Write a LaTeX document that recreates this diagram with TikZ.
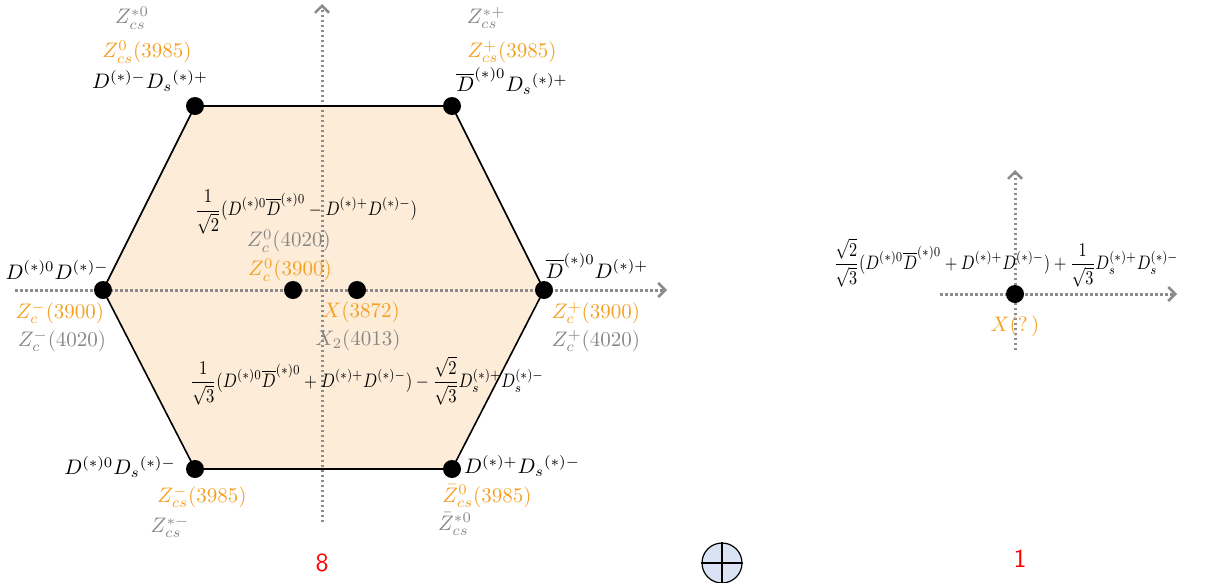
\documentclass[tikz,border=0pt]{standalone}
\usepackage{graphicx}
\usepackage{amsmath}
\usetikzlibrary{arrows.meta}
\definecolor{peach}{RGB}{253,236,216}
\definecolor{zorange}{RGB}{243,160,35}
\definecolor{zgray}{RGB}{135,135,135}
\definecolor{axgray}{RGB}{140,140,140}
\definecolor{cblue}{RGB}{218,227,243}
\newcommand{\mylb}[1]{\scalebox{2.1}{$#1$}}
\newcommand{\myfm}[2][1.66]{\scalebox{#1}[1.95]{$\displaystyle #2$}}
\begin{document}
\begin{tikzpicture}[x=1pt,y=-1pt,
  dot/.style={circle,fill=black,inner sep=0pt,minimum size=18pt},
  axis/.style={axgray,line width=3pt,dash pattern=on 2.5pt off 2.5pt,-{Straight Barb[length=7pt,width=14pt,line width=2.5pt]}},
  lbl/.style={inner sep=0pt},
  org/.style={lbl,text=zorange},
  gry/.style={lbl,text=zgray},
  blk/.style={lbl,text=black},
  redlbl/.style={inner sep=0pt,text=red,font=\sffamily}]
\useasboundingbox (0,0) rectangle (1207,582);
% vertices
\coordinate (tl) at (195,106);
\coordinate (tr) at (452,106);
\coordinate (r) at (544,290);
\coordinate (br) at (452,469);
\coordinate (bl) at (195,469);
\coordinate (l) at (103,290);
\fill[peach] (tl) -- (tr) -- (r) -- (br) -- (bl) -- (l) -- cycle;
% axes
\coordinate (vs) at (322,522);
\coordinate (ve) at (322,4);
\coordinate (hs) at (15,290);
\coordinate (he) at (667,290);
\draw[axis] (vs) -- (ve);
\draw[axis] (hs) -- (he);
\draw[black,line width=1.6pt] (tl) -- (tr) -- (r) -- (br) -- (bl) -- (l) -- cycle;
% dots
\node[dot] (ntl) at (tl) {};
\node[dot] (ntr) at (tr) {};
\node[dot] (nr) at (r) {};
\node[dot] (nbr) at (br) {};
\node[dot] (nbl) at (bl) {};
\node[dot] (nl) at (l) {};
\node[dot] (nc1) at (293,290) {};
\node[dot] (nc2) at (357,290) {};
% labels top-left
\node[gry] (a1) at (132,18) {\mylb{Z_{cs}^{*0}}};
\node[org] (a2) at (147,52) {\mylb{Z_{cs}^{0}(3985)}};
\node[blk] (a3) at (150,81) {\mylb{D^{(*)-}D_s{}^{(*)+}}};
% top-right
\node[gry] (b1) at (486,18) {\mylb{Z_{cs}^{*+}}};
\node[org] (b2) at (512,52) {\mylb{Z_{cs}^{+}(3985)}};
\node[blk] (b3) at (512,81) {\mylb{\overline{D}^{(*)0}D_s{}^{(*)+}}};
% left
\node[blk] (c1) at (57,270) {\mylb{D^{(*)0}D^{(*)-}}};
\node[org] (c2) at (60,313) {\mylb{Z_{c}^{-}(3900)}};
\node[gry] (c3) at (62,341) {\mylb{Z_{c}^{-}(4020)}};
% right
\node[blk] (d1) at (597,266) {\mylb{\overline{D}^{(*)0}D^{(*)+}}};
\node[org] (d2) at (596,313) {\mylb{Z_{c}^{+}(3900)}};
\node[gry] (d3) at (596,341) {\mylb{Z_{c}^{+}(4020)}};
% bottom-left
\node[blk] (e1) at (120,467) {\mylb{D^{(*)0}D_s{}^{(*)-}}};
\node[org] (e2) at (202,497) {\mylb{Z_{cs}^{-}(3985)}};
\node[gry] (e3) at (170,527) {\mylb{Z_{cs}^{*-}}};
% bottom-right
\node[blk] (f1) at (522,466) {\mylb{D^{(*)+}D_s{}^{(*)-}}};
\node[org] (f2) at (487,496) {\mylb{\bar{Z}_{cs}^{0}(3985)}};
\node[gry] (f3) at (455,524) {\mylb{\bar{Z}_{cs}^{*0}}};
% center
\node[blk] (g1) at (306,212) {\myfm{\frac{1}{\sqrt{2}}(D^{(*)0}\overline{D}^{(*)0}-D^{(*)+}D^{(*)-})}};
\node[gry] (g2) at (289,241) {\mylb{Z_{c}^{0}(4020)}};
\node[org] (g3) at (290,270) {\mylb{Z_{c}^{0}(3900)}};
\node[org] (g4) at (361,312) {\mylb{X(3872)}};
\node[gry] (g5) at (358,340) {\mylb{X_2(4013)}};
\node[blk] (g6) at (367,381) {\myfm{\frac{1}{\sqrt{3}}(D^{(*)0}\overline{D}^{(*)0}+D^{(*)+}D^{(*)-})-\frac{\sqrt{2}}{\sqrt{3}}D_s^{(*)+}D_s^{(*)-}}};
% right panel
\coordinate (rvs) at (1015,350);
\coordinate (rve) at (1015,170);
\coordinate (rhs) at (940,294);
\coordinate (rhe) at (1177,294);
\draw[axis] (rvs) -- (rve);
\draw[axis] (rhs) -- (rhe);
\node[dot] (x0) at (1015,294) {};
\node[blk] (h1) at (1006,263) {\myfm[1.62]{\frac{\sqrt{2}}{\sqrt{3}}(D^{(*)0}\overline{D}^{(*)0}+D^{(*)+}D^{(*)-})+\frac{1}{\sqrt{3}}D_s^{(*)+}D_s^{(*)-}}};
\node[org] (h2) at (1015,326) {\mylb{X(?\,)}};
% bottom
\node[circle,draw=black,line width=1.2pt,fill=cblue,minimum size=40pt,inner sep=0pt] (oc) at (722,563) {};
\draw[black,line width=1.2pt] (oc.north) -- (oc.south);
\draw[black,line width=1.2pt] (oc.west) -- (oc.east);
\node[redlbl] (n8) at (322,563) {\scalebox{2.6}{8}};
\node[redlbl] (n1) at (1020,559) {\scalebox{2.6}{1}};
\end{tikzpicture}
\end{document}
